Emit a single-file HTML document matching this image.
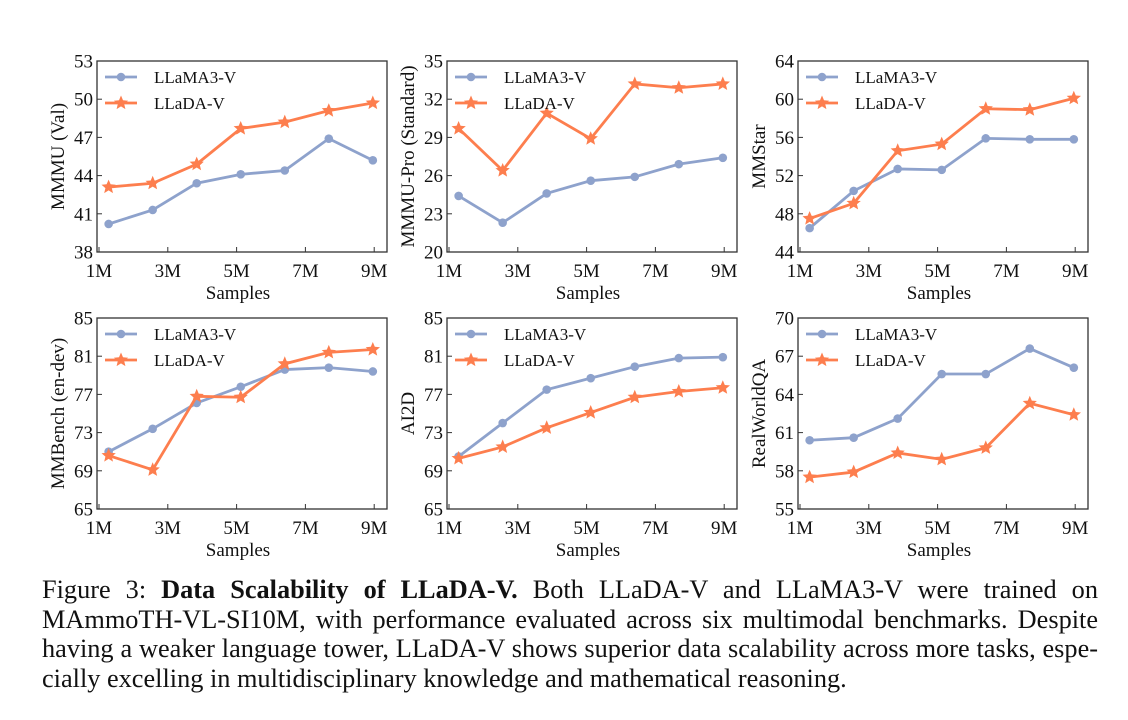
<!DOCTYPE html>
<html><head><meta charset="utf-8">
<style>
body{margin:0;background:#fff;width:1128px;height:720px;overflow:hidden;}
svg text{font-family:"Liberation Serif",serif;fill:#111;}
#cap{position:absolute;left:42px;top:575px;width:1056px;font-family:"Liberation Serif","Times New Roman",serif;font-size:26.3px;line-height:29.5px;color:#111;}
#cap div{text-align:justify;text-align-last:justify;white-space:nowrap;}
#cap div.last{text-align-last:left;}
</style></head><body>
<svg id="fig" width="1128" height="570" style="position:absolute;left:0;top:0"></svg>
<div id="cap">
<div>Figure 3: <b>Data Scalability of LLaDA-V.</b> Both LLaDA-V and LLaMA3-V were trained on</div>
<div>MAmmoTH-VL-SI10M, with performance evaluated across six multimodal benchmarks. Despite</div>
<div>having a weaker language tower, LLaDA-V shows superior data scalability across more tasks, espe-</div>
<div class="last">cially excelling in multidisciplinary knowledge and mathematical reasoning.</div>
</div>
<script>
const samples=[1.28,2.56,3.84,5.12,6.4,7.68,8.96];
const xTicks=[1,3,5,7,9];
const titles=["MMMU (Val)","MMMU-Pro (Standard)","MMStar","MMBench (en-dev)","AI2D","RealWorldQA"];
const yTicks=[[38,41,44,47,50,53],[20,23,26,29,32,35],[44,48,52,56,60,64],[65,69,73,77,81,85],[65,69,73,77,81,85],[55,58,61,64,67,70]];
const llama=[[40.2,41.3,43.4,44.1,44.4,46.9,45.2],[24.4,22.3,24.6,25.6,25.9,26.9,27.4],[46.5,50.4,52.7,52.6,55.9,55.8,55.8],[71.0,73.4,76.1,77.8,79.6,79.8,79.4],[70.5,74.0,77.5,78.7,79.9,80.8,80.9],[60.4,60.6,62.1,65.6,65.6,67.6,66.1]];
const llada=[[43.1,43.4,44.9,47.7,48.2,49.1,49.7],[29.7,26.4,30.9,28.9,33.2,32.9,33.2],[47.5,49.1,54.6,55.3,59.0,58.9,60.1],[70.6,69.1,76.8,76.7,80.2,81.4,81.7],[70.3,71.5,73.5,75.1,76.7,77.3,77.7],[57.5,57.9,59.4,58.9,59.8,63.3,62.4]];
const BLUE="#8ea2cc",ORANGE="#fd7e4e";
const NS="http://www.w3.org/2000/svg";
const svg=document.getElementById('fig');
function mk(tag,attrs,parent,text){const e=document.createElementNS(NS,tag);for(const k in attrs)e.setAttribute(k,attrs[k]);if(text!==undefined)e.textContent=text;parent.appendChild(e);return e;}
function star(cx,cy,r){let p=[];for(let i=0;i<10;i++){const a=-Math.PI/2+i*Math.PI/5;const rr=i%2?r*0.45:r;p.push((cx+rr*Math.cos(a)).toFixed(1)+','+(cy+rr*Math.sin(a)).toFixed(1));}return p.join(' ');}
const lefts=[97,447,798],tops=[61,318],W=290,H=191;
for(let k=0;k<6;k++){
 const L=lefts[k%3],T=tops[Math.floor(k/3)];
 const yt=yTicks[k],y0=yt[0],y1=yt[yt.length-1];
 const X=v=>L+2+(v-1)*34.4;
 const Y=v=>T+H-(v-y0)/(y1-y0)*H;
 const g=mk('g',{},svg);
 
 
 const box=mk('rect',{x:L,y:T,width:W,height:H,fill:'none',stroke:'#333','stroke-width':1.3},g);
 
 yt.forEach(v=>{mk('line',{x1:L,x2:L+5,y1:Y(v),y2:Y(v),stroke:'#333'},g);
  const t=mk('text',{x:L-4,y:Y(v)+6.5,'text-anchor':'end','font-size':19},g,v);
  });
 xTicks.forEach(v=>{mk('line',{x1:X(v),x2:X(v),y1:T+H,y2:T+H-5,stroke:'#333'},g);
  const t=mk('text',{x:X(v),y:T+H+25,'text-anchor':'middle','font-size':19},g,v+'M');
  });
 const xl=mk('text',{x:L+W/2-4,y:T+H+47,'text-anchor':'middle','font-size':19},g,'Samples');
 
 const yl=mk('text',{x:0,y:0,'text-anchor':'middle','font-size':19,transform:`translate(${L-33},${T+H/2}) rotate(-90)`},g,titles[k]);
 
 [[llama[k],BLUE,'circle','llama3-v'],[llada[k],ORANGE,'star','llada-v']].forEach(([d,c,m,n])=>{
  const pl=mk('polyline',{points:d.map((v,i)=>X(samples[i])+','+Y(v)).join(' '),fill:'none',stroke:c,'stroke-width':2.8},g);
  
  d.forEach((v,i)=>{let e;if(m==='circle')e=mk('circle',{cx:X(samples[i]),cy:Y(v),r:4.3,fill:c},g);
   else e=mk('polygon',{points:star(X(samples[i]),Y(v),7.5),fill:c},g);
   });
 });
 [[BLUE,'LLaMA3-V',16,'circle'],[ORANGE,'LLaDA-V',42,'star']].forEach(([c,lab,dy,m])=>{
  const lg=mk('g',{},g);
  mk('line',{x1:L+8,x2:L+40,y1:T+dy,y2:T+dy,stroke:c,'stroke-width':2.8},lg);
  if(m==='circle')mk('circle',{cx:L+24,cy:T+dy,r:4.3,fill:c},lg);else mk('polygon',{points:star(L+24,T+dy,7.5),fill:c},lg);
  mk('text',{x:L+57,y:T+dy+6,'font-size':17},lg,lab);
 });
}
</script>
</body></html>
